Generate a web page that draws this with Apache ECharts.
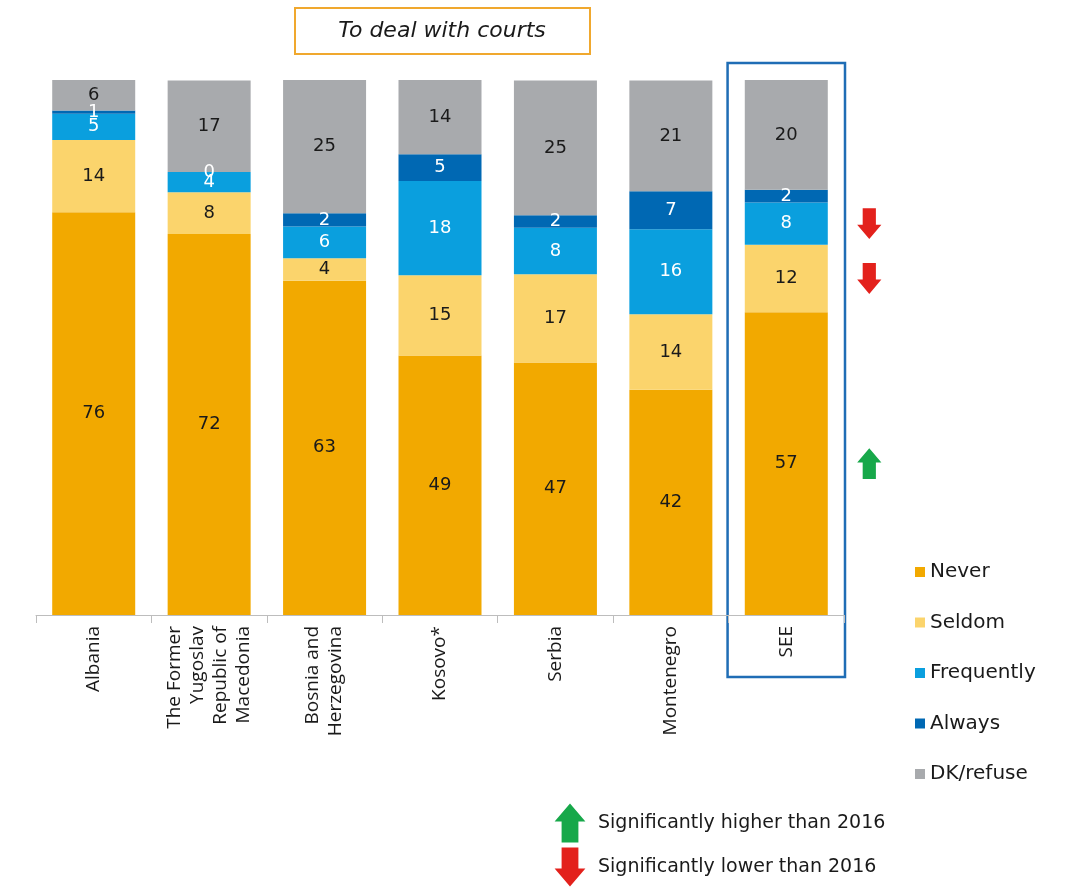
<!DOCTYPE html>
<html><head><meta charset="utf-8">
<script src="https://cdn.jsdelivr.net/npm/echarts@6/dist/echarts.min.js"></script>
<style>html,body{margin:0;padding:0;background:#fff}#c{width:1067px;height:889px}</style>
</head><body><div id="c"></div>
<script>
const categories = ['Albania', 'The Former\nYugoslav\nRepublic of\nMacedonia', 'Bosnia and\nHerzegovina', 'Kosovo*', 'Serbia', 'Montenegro', 'SEE'];
// segment sizes (percent)
const never      = [75.3, 71.2, 62.5, 48.5, 47.2, 42.1, 56.6];
const seldom     = [13.5,  7.8,  4.2, 15.0, 16.5, 14.1, 12.6];
const frequently = [ 4.9,  3.8,  5.9, 17.6,  8.7, 15.9,  7.9];
const always     = [ 0.6,  0.0,  2.5,  5.0,  2.3,  7.1,  2.4];
const dkRefuse   = [ 5.7, 17.1, 24.9, 14.0, 25.2, 20.7, 20.6];
// printed labels
const neverLabels      = [76, 72, 63, 49, 47, 42, 57];
const seldomLabels     = [14,  8,  4, 15, 17, 14, 12];
const frequentlyLabels = [ 5,  4,  6, 18,  8, 16,  8];
const alwaysLabels     = [ 1,  0,  2,  5,  2,  7,  2];
const dkLabels         = [ 6, 17, 25, 14, 25, 21, 20];
const seriesNames = ['Never', 'Seldom', 'Frequently', 'Always', 'DK/refuse'];
const titleText = 'To deal with courts';
const highlightCategory = 'SEE';
// significance vs 2016 for the highlighted category: series index and direction
const sigSeries = [2, 1, 0];
const sigDirection = ['down', 'down', 'up'];
const sigLegendTexts = ['Significantly higher than 2016', 'Significantly lower than 2016'];

const FONT = 'DejaVu Sans';
const AXFONT = 'Open Sans';
const colors = ['#F2A900', '#FBD46C', '#0A9FDE', '#0068B3', '#A8AAAD'];
const labelColors = ['#1a1a1a', '#1a1a1a', '#fff', '#fff', '#1a1a1a'];
const values = [never, seldom, frequently, always, dkRefuse];
const labels = [neverLabels, seldomLabels, frequentlyLabels, alwaysLabels, dkLabels];

const chart = echarts.init(document.getElementById('c'), null, {renderer: 'canvas'});
const series = seriesNames.map((name, i) => ({
  name, type: 'bar', stack: 'total', barWidth: 83,
  data: values[i],
  itemStyle: {color: colors[i]},
  label: {
    show: true, position: 'inside', color: labelColors[i],
    fontFamily: FONT, fontSize: 18,
    formatter: p => String(labels[i][p.dataIndex])
  },
  emphasis: {disabled: true}
}));

chart.setOption({
  animation: false,
  backgroundColor: '#fff',
  grid: {left: 36, right: 223, top: 80, bottom: 274, containLabel: false, outerBoundsMode: 'none'},
  xAxis: {
    type: 'category', data: categories,
    axisLine: {lineStyle: {color: '#BDBDBD', width: 1}},
    axisTick: {show: true, length: 8, lineStyle: {color: '#BDBDBD'}},
    axisLabel: {rotate: 90, interval: 0, margin: 11, color: '#1a1a1a', fontFamily: AXFONT, fontSize: 19, lineHeight: 23}
  },
  yAxis: {type: 'value', min: 0, max: 100, show: false, splitLine: {show: false}},
  legend: {
    orient: 'vertical', left: 910, top: 556, icon: 'rect',
    itemWidth: 10, itemHeight: 10, itemGap: 28.5, itemStyle: {borderWidth: 0},
    textStyle: {fontFamily: FONT, fontSize: 20, color: '#1a1a1a', lineHeight: 22},
    data: seriesNames, selectedMode: false
  },
  series
});

// decorations positioned from the axes
const ci = categories.indexOf(highlightCategory);
const c0 = chart.convertToPixel({gridIndex: 0}, [ci, 0]);
const c100 = chart.convertToPixel({gridIndex: 0}, [ci, 100]);
const cPrev = chart.convertToPixel({gridIndex: 0}, [ci - 1, 0]);
const band = c0[0] - cPrev[0];

function arrow(dir, cx, cy, s) {
  const base = [[-6, -14], [6, -14], [6, 1], [11, 1], [0, 14], [-11, 1], [-6, 1]];
  const k = dir === 'down' ? 1 : -1;
  return {
    type: 'polygon', silent: true,
    shape: {points: base.map(([x, y]) => [cx + x * s, cy + y * s * k])},
    style: {fill: dir === 'down' ? '#E3211C' : '#17A84A'}
  };
}

const graphics = [];
// title box
graphics.push({type: 'rect', silent: true, shape: {x: 295, y: 8, width: 295, height: 46},
  style: {fill: '#fff', stroke: '#F0A82E', lineWidth: 2}});
graphics.push({type: 'text', silent: true, x: 442, y: 31, style: {text: titleText, font: 'italic 22px "' + FONT + '"',
  fill: '#1a1a1a', align: 'center', verticalAlign: 'middle'}});
// highlight box
graphics.push({type: 'rect', silent: true, shape: {x: c0[0] - band / 2 - 1, y: c100[1] - 17, width: band + 2, height: c0[1] - c100[1] + 79},
  style: {fill: 'none', stroke: '#1F6DB5', lineWidth: 2.5}});
// significance arrows
sigSeries.forEach((si, k) => {
  let base = 0;
  for (let j = 0; j < si; j++) base += values[j][ci];
  const mid = base + values[si][ci] / 2;
  const p = chart.convertToPixel({gridIndex: 0}, [ci, mid]);
  graphics.push(arrow(sigDirection[k], p[0] + 83, p[1], 1.1));
});
// bottom significance legend
graphics.push(arrow('up', 570, 823, 1.4));
graphics.push(arrow('down', 570, 867, 1.4));
graphics.push({type: 'text', silent: true, x: 598, y: 823, style: {text: sigLegendTexts[0], font: '19px "' + FONT + '"', fill: '#1a1a1a', verticalAlign: 'middle'}});
graphics.push({type: 'text', silent: true, x: 598, y: 867, style: {text: sigLegendTexts[1], font: '19px "' + FONT + '"', fill: '#1a1a1a', verticalAlign: 'middle'}});

chart.setOption({graphic: graphics});
</script>
</body></html>
